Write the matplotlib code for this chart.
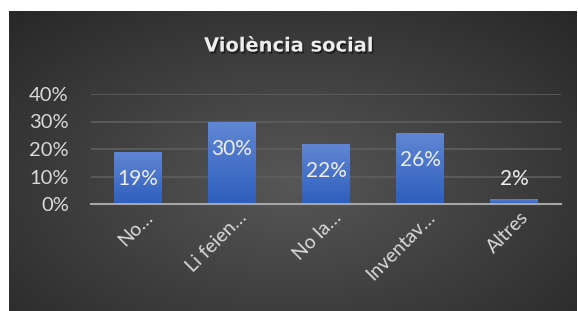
import matplotlib.pyplot as plt
import numpy as np
import matplotlib.transforms as mtransforms
import matplotlib.patheffects as pe

categories = ['No…', 'Li feien…', 'No la…', 'Inventav…', 'Altres']
values = [0.19, 0.30, 0.22, 0.26, 0.02]
labels = ['19%', '30%', '22%', '26%', '2%']
yticks = [0, 0.1, 0.2, 0.3, 0.4]
ytick_labels = ['0%', '10%', '20%', '30%', '40%']

plt.rcParams['font.family'] = ['Lato', 'DejaVu Sans']

W, H = 578, 311
fig = plt.figure(figsize=(W / 100, H / 100), dpi=100)
fig.patch.set_facecolor('white')

# dark panel with radial gradient
bg = fig.add_axes([9 / W, 0, (577 - 9) / W, (311 - 11) / H])
bg.set_axis_off()
yy, xx = np.mgrid[-1:1:200j, -1:1:300j]
r = np.sqrt(xx ** 2 + ((yy - 0.15) * 0.9) ** 2)
shade = 0.34 - 0.18 * np.clip(r / 1.4, 0, 1)
bg.imshow(np.dstack([shade] * 3), aspect='auto', extent=[0, 1, 0, 1], interpolation='bilinear')
bg.set_xlim(0, 1)
bg.set_ylim(0, 1)

ax = fig.add_axes([91 / W, 107 / H, (561 - 91) / W, (204 - 94) / H])
ax.patch.set_alpha(0)
x = np.arange(len(categories))
bars = ax.bar(x, values, width=0.51, color='#4472c4', zorder=3)

# vertical gradient on each bar
grad = np.linspace(0, 1, 100).reshape(-1, 1)
top = np.array([0.38, 0.53, 0.83])
bot = np.array([0.18, 0.37, 0.74])
img = bot + (top - bot) * grad[:, :, None]
for b in bars:
    x0, w, h = b.get_x(), b.get_width(), b.get_height()
    im = ax.imshow(img, extent=[x0, x0 + w, 0, h], origin='lower', aspect='auto', zorder=4)
    im.set_clip_path(b)

for xi, v, lab in zip(x, values, labels):
    yl = v - 0.10 if v > 0.1 else v + 0.07
    ax.text(xi, yl, lab, ha='center', va='center', color='#eeeeee', fontsize=15, zorder=5)

ax.set_xlim(-0.5, len(categories) - 0.5)
ax.set_ylim(0, 0.4)
ax.set_yticks(yticks)
ax.set_yticklabels(ytick_labels, color='#d9d9d9', fontsize=14.5)
ax.yaxis.grid(True, color='#5e5e5e', lw=1.2, zorder=0)
ax.set_xticks(x)
ax.set_xticklabels(categories, rotation=45, ha='right', va='center', rotation_mode='anchor',
                   color='#d9d9d9', fontsize=14)
ax.tick_params(axis='both', length=0)
ax.tick_params(axis='y', pad=16)
ax.tick_params(axis='x', pad=4)
offset = mtransforms.ScaledTranslation(12 / 100, -5 / 100, fig.dpi_scale_trans)
for lab in ax.get_xticklabels():
    lab.set_transform(lab.get_transform() + offset)
for s in ['top', 'right', 'left']:
    ax.spines[s].set_visible(False)
ax.spines['bottom'].set_color('#a6a6a6')
ax.spines['bottom'].set_linewidth(1.5)
ax.spines['bottom'].set_zorder(6)

fig.text(289 / W, 1 - 46 / H, 'Violència social', ha='center', va='center', color='#ededed',
         fontsize=14, fontweight='bold', family=['DejaVu Sans'],
         path_effects=[pe.withSimplePatchShadow(offset=(1, -1.5), shadow_rgbFace='black', alpha=0.5)])

fig.savefig('out.png', dpi=100)
